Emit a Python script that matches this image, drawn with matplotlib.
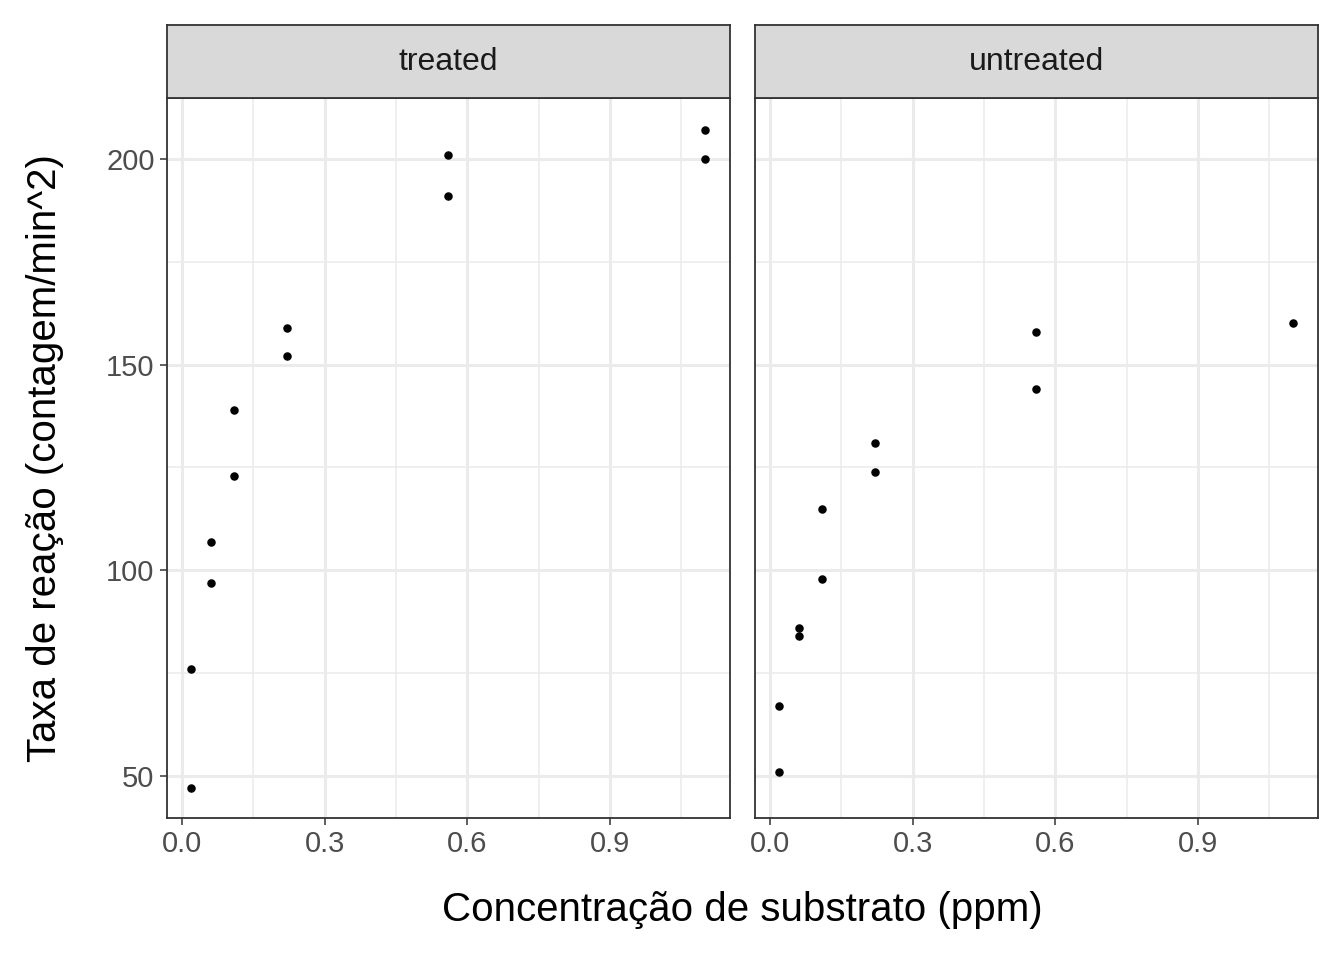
import numpy as np
import matplotlib.pyplot as plt

plt.rcParams['font.family'] = ['Liberation Sans', 'DejaVu Sans']

groups = ["treated", "untreated"]
treated_conc = [0.02, 0.02, 0.06, 0.06, 0.11, 0.11, 0.22, 0.22, 0.56, 0.56, 1.10, 1.10]
treated_rate = [76, 47, 97, 107, 123, 139, 159, 152, 191, 201, 207, 200]
untreated_conc = [0.02, 0.02, 0.06, 0.06, 0.11, 0.11, 0.22, 0.22, 0.56, 0.56, 1.10]
untreated_rate = [67, 51, 84, 86, 98, 115, 131, 124, 144, 158, 160]
data = {"treated": (treated_conc, treated_rate), "untreated": (untreated_conc, untreated_rate)}

W, H = 1344, 960
fig = plt.figure(figsize=(W / 100, H / 100), dpi=100)
lefts = [167, 755]
pw = 563
top, bottom = 98, 818
strip_top = 25

for i, g in enumerate(groups):
    x0 = lefts[i]
    ax = fig.add_axes([x0 / W, 1 - bottom / H, pw / W, (bottom - top) / H])
    ax.set_xlim(-0.0315, 1.152)
    ax.set_ylim(39.8, 214.8)
    ax.set_xticks([0.0, 0.3, 0.6, 0.9])
    ax.set_xticklabels(["0.0", "0.3", "0.6", "0.9"])
    ax.set_xticks([0.15, 0.45, 0.75, 1.05], minor=True)
    ax.set_yticks([50, 100, 150, 200])
    ax.set_yticks([75, 125, 175], minor=True)
    ax.grid(True, which='major', color='#ebebeb', linewidth=2.2)
    ax.grid(True, which='minor', color='#ebebeb', linewidth=1.1)
    ax.set_axisbelow(True)
    ax.tick_params(which='minor', length=0)
    ax.tick_params(which='major', length=5, width=1.1, color='#333333',
                   labelsize=21, labelcolor='#4d4d4d', pad=4)
    for s in ax.spines.values():
        s.set_color('#333333')
        s.set_linewidth(1.3)
    if i == 1:
        ax.set_yticklabels([])
        ax.tick_params(axis='y', length=0)
    else:
        ax.set_yticklabels(["50", "100", "150", "200"])
    x, y = data[g]
    ax.scatter(x, y, s=26, color='black', zorder=3)

    sax = fig.add_axes([x0 / W, 1 - top / H, pw / W, (top - strip_top) / H])
    sax.set_xticks([]); sax.set_yticks([])
    sax.set_facecolor('#d9d9d9')
    for s in sax.spines.values():
        s.set_color('#333333')
        s.set_linewidth(1.3)
    sax.text(0.5, 0.5, g, ha='center', va='center', fontsize=23,
             color='#1a1a1a', transform=sax.transAxes)

fig.text((167 + 1318) / 2 / W, 1 - 910 / H, "Concentração de substrato (ppm)",
         ha='center', va='center', fontsize=29)
fig.text(45 / W, 1 - 458 / H, "Taxa de reação (contagem/min^2)",
         ha='center', va='center', fontsize=29, rotation=90)

fig.savefig("out.png", dpi=100)
